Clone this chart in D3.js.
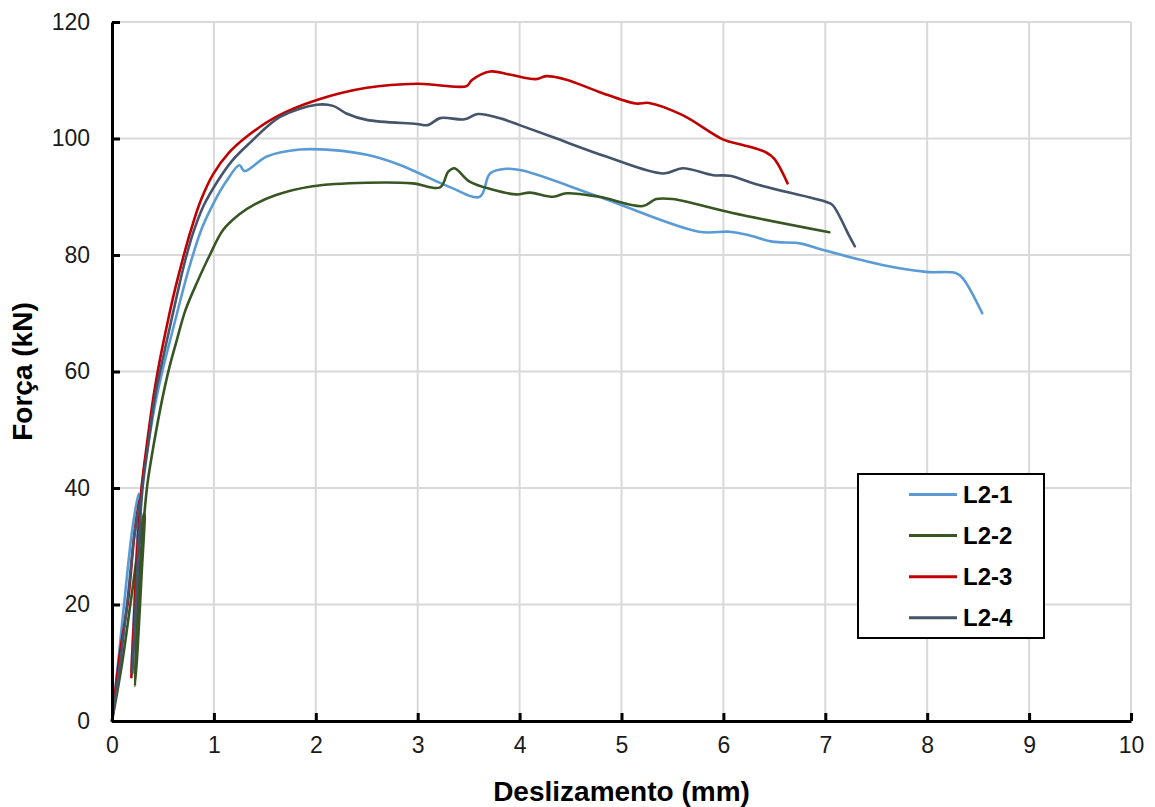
<!DOCTYPE html>
<html>
<head>
<meta charset="utf-8">
<script src="https://cdn.jsdelivr.net/npm/d3@7"></script>
<style>
  body { margin: 0; background: #fff; }
  svg { font-family: Arial, "Liberation Sans", sans-serif; }
</style>
</head>
<body>
<script>
// valores: [deslizamento (mm), forca (kN)]
var serieNomes = ["L2-1", "L2-2", "L2-3", "L2-4"];
var serieCores = ["#5b9bd5", "#375623", "#c00000", "#44546a"];

var dadosL21 = [[0,0],[0.06,10],[0.13,22],[0.2,33],[0.26,39],[0.23,25],[0.2,12],[0.19,8.5],[0.21,16],[0.25,30],
  [0.29,40],[0.36,48],[0.43,55],[0.5,60.5],[0.58,66],[0.66,71.5],[0.76,78],[0.88,84.5],[1.0,89],[1.12,92.6],
  [1.25,95.4],[1.3,94.4],[1.52,96.9],[1.84,98.1],[2.17,98],[2.5,97.2],[2.82,95.5],[3.31,91.7],[3.61,90],[3.71,94],
  [3.87,94.8],[4.03,94.5],[4.78,90],[5.76,84],[6.06,84],[6.25,83.4],[6.48,82.3],[6.75,82],[6.97,80.9],[7.56,78.3],
  [7.99,77.1],[8.28,76.9],[8.35,76],[8.54,70]];

var dadosL22 = [[0,0],[0.1,10],[0.18,20],[0.26,30],[0.32,36],[0.29,25],[0.25,12],[0.225,6],[0.24,15],[0.28,28],
  [0.32,36],[0.35,41],[0.42,48.5],[0.49,55],[0.56,60.5],[0.63,65],[0.72,70.5],[0.84,75.5],[0.96,80],[1.09,84.3],
  [1.25,87],[1.4,88.7],[1.61,90.3],[1.97,91.8],[2.5,92.4],[2.95,92.3],[3.22,91.6],[3.3,94.3],[3.36,94.9],
  [3.51,92.6],[3.74,91.2],[3.97,90.4],[4.1,90.7],[4.33,90],[4.46,90.6],[4.78,90],[5.21,88.4],[5.34,89.6],
  [5.5,89.6],[6.09,87.2],[7.04,83.9]];

var dadosL23 = [[0,0],[0.08,12],[0.16,21],[0.22,32],[0.27,38],[0.24,25],[0.2,12],[0.19,7.5],[0.21,15],[0.25,30],
  [0.29,40],[0.35,48.5],[0.41,56],[0.47,62],[0.54,68],[0.61,73.5],[0.69,79],[0.77,84],[0.87,89.3],[0.99,93.8],
  [1.15,97.6],[1.32,100.3],[1.61,103.7],[2.01,106.6],[2.5,108.7],[3.0,109.4],[3.48,109],[3.53,110],[3.71,111.5],
  [3.9,111],[4.16,110.2],[4.26,110.7],[4.46,110.1],[4.78,108],[5.14,106],[5.27,106.1],[5.6,104],[6.0,99.8],
  [6.19,98.9],[6.42,97.6],[6.5,96.5],[6.63,92.3]];

var dadosL24 = [[0,0],[0.08,10],[0.16,22],[0.22,32],[0.28,38],[0.25,25],[0.21,12],[0.2,8.2],[0.22,15],[0.26,30],
  [0.3,40],[0.36,48],[0.42,55.5],[0.49,61.5],[0.56,67],[0.63,72.5],[0.71,78.5],[0.8,84],[0.9,88.5],[1.03,92.5],
  [1.18,96.2],[1.35,99.2],[1.65,103.7],[2.01,105.8],[2.17,105.6],[2.3,104.3],[2.5,103.2],[2.99,102.5],[3.1,102.3],
  [3.22,103.5],[3.46,103.3],[3.59,104.2],[3.8,103.5],[4.0,102.3],[4.33,100.2],[4.85,96.9],[5.41,94],[5.6,94.9],
  [5.9,93.7],[6.06,93.6],[6.35,92],[7.01,89.1],[7.07,88.6],[7.24,83.1],[7.29,81.5]];

var ticksX = [0,1,2,3,4,5,6,7,8,9,10];
var ticksY = [0,20,40,60,80,100,120];

var series = [dadosL21, dadosL22, dadosL23, dadosL24];

var largura = 1155, altura = 807;
var margem = {top: 22, right: 24, bottom: 86, left: 112};

var svg = d3.select("body").append("svg")
    .attr("width", largura)
    .attr("height", altura);

var x = d3.scaleLinear().domain([0, 10]).range([margem.left, largura - margem.right]);
var y = d3.scaleLinear().domain([0, 120]).range([altura - margem.bottom, margem.top]);

// grade
svg.append("g").selectAll("line.gx")
    .data(ticksX.slice(1))
    .enter().append("line")
    .attr("x1", function (d) { return x(d); })
    .attr("x2", function (d) { return x(d); })
    .attr("y1", y(0)).attr("y2", y(120))
    .attr("stroke", "#d9d9d9").attr("stroke-width", 2);

svg.append("g").selectAll("line.gy")
    .data(ticksY.slice(1))
    .enter().append("line")
    .attr("x1", x(0)).attr("x2", x(10))
    .attr("y1", function (d) { return y(d); })
    .attr("y2", function (d) { return y(d); })
    .attr("stroke", "#d9d9d9").attr("stroke-width", 2);

// linhas
var linha = d3.line()
    .x(function (d) { return x(d[0]); })
    .y(function (d) { return y(d[1]); })
    .curve(d3.curveCatmullRom.alpha(0.5));

svg.append("g").selectAll("path")
    .data(series)
    .enter().append("path")
    .attr("d", linha)
    .attr("fill", "none")
    .attr("stroke", function (d, i) { return serieCores[i]; })
    .attr("stroke-width", 2.6)
    .attr("stroke-linejoin", "round")
    .attr("stroke-linecap", "round");

// eixos
var eixoX = svg.append("g")
    .attr("transform", "translate(0," + y(0) + ")")
    .call(d3.axisBottom(x).tickValues(ticksX).tickSizeInner(-8).tickSizeOuter(0).tickPadding(16));
var eixoY = svg.append("g")
    .attr("transform", "translate(" + x(0) + ",0)")
    .call(d3.axisLeft(y).tickValues(ticksY).tickSizeInner(-8).tickSizeOuter(0).tickPadding(22));

[eixoX, eixoY].forEach(function (e) {
    e.select(".domain").attr("stroke", "#000").attr("stroke-width", 3);
    e.selectAll(".tick line").attr("stroke", "#000").attr("stroke-width", 3);
    e.selectAll(".tick text")
        .attr("font-family", "Arial, 'Liberation Sans', sans-serif")
        .attr("font-size", 23)
        .attr("fill", "#1a1a1a");
});
eixoX.selectAll(".tick text").attr("dy", "0.71em");

// titulos dos eixos
svg.append("text")
    .attr("x", (x(0) + x(10)) / 2)
    .attr("y", 801)
    .attr("text-anchor", "middle")
    .attr("font-size", 28)
    .attr("font-weight", "bold")
    .text("Deslizamento (mm)");

svg.append("text")
    .attr("transform", "translate(32," + ((y(0) + y(120)) / 2) + ") rotate(-90)")
    .attr("text-anchor", "middle")
    .attr("font-size", 28)
    .attr("font-weight", "bold")
    .text("Força (kN)");

// legenda
var leg = svg.append("g");
leg.append("rect")
    .attr("x", 858).attr("y", 474)
    .attr("width", 186).attr("height", 164)
    .attr("fill", "#fff").attr("stroke", "#000").attr("stroke-width", 2);

var itens = leg.selectAll("g.item")
    .data(serieNomes)
    .enter().append("g")
    .attr("transform", function (d, i) { return "translate(0," + (494.5 + i * 41.1) + ")"; });

itens.append("line")
    .attr("x1", 909).attr("x2", 957)
    .attr("stroke", function (d, i) { return serieCores[i]; })
    .attr("stroke-width", 3);

itens.append("text")
    .attr("x", 963)
    .attr("dy", "0.36em")
    .attr("font-size", 24)
    .attr("font-weight", "bold")
    .text(function (d) { return d; });
</script>
</body>
</html>
